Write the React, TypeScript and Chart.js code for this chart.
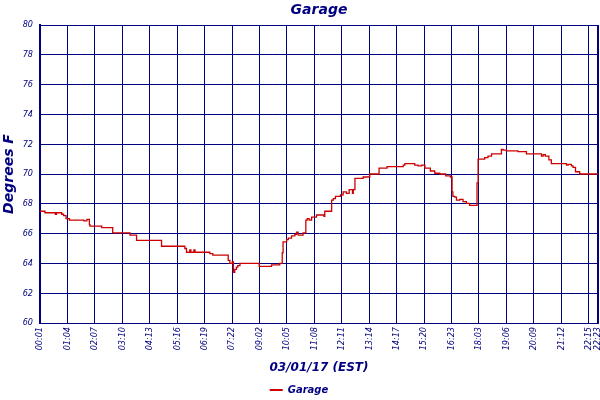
import React, { useEffect, useRef } from "react";
import { Chart, registerables } from "chart.js";

Chart.register(...registerables);

const tickLabels = [
  "00:01", "01:04", "02:07", "03:10", "04:13", "05:16", "06:19", "07:22",
  "09:02", "10:05", "11:08", "12:11", "13:14", "14:17", "15:20", "16:23",
  "18:03", "19:06", "20:09", "21:12", "22:15", "22:23",
];
const tickPositions = [
  0, 1, 2, 3, 4, 5, 6, 7, 8, 9, 10, 11, 12, 13, 14, 15, 16, 17, 18, 19, 20, 20.34,
];

// reading position (in label-interval units) where each temperature level starts
const readingPos = [
  0, 0.18, 0.56, 0.6, 0.79, 0.86, 0.95, 1.07, 1.6, 1.71, 1.8, 1.82, 2.25, 2.65,
  3.28, 3.52, 4.43, 5.28, 5.34, 5.46, 5.5, 5.61, 5.65, 6.19, 6.3, 6.86, 6.92,
  7.01, 7.05, 7.1, 7.16, 7.21, 7.29, 7.99, 8.44, 8.74, 8.83, 8.86, 8.99, 9.05,
  9.17, 9.29, 9.35, 9.41, 9.59, 9.69, 9.74, 9.81, 9.9, 10.08, 10.35, 10.38,
  10.63, 10.69, 10.77, 10.95, 11.05, 11.17, 11.27, 11.39, 11.42, 11.48, 11.78,
  12.02, 12.36, 12.65, 13.24, 13.3, 13.66, 13.78, 13.91, 14.03, 14.23, 14.39,
  14.57, 14.79, 14.96, 15.02, 15.05, 15.12, 15.18, 15.3, 15.42, 15.54, 15.66,
  15.93, 15.97, 16.21, 16.33, 16.46, 16.82, 16.88, 17.0, 17.42, 17.73, 18.28,
  18.34, 18.42, 18.55, 18.64, 19.19, 19.25, 19.37, 19.43, 19.52, 19.67, 20.34,
];
const garageTemp = [
  67.5, 67.4, 67.3, 67.4, 67.3, 67.2, 67.0, 66.9, 66.85, 66.95, 66.6, 66.5, 66.4, 66.05,
  65.9, 65.55, 65.15, 65.0, 64.75, 64.9, 64.75, 64.9, 64.75, 64.65, 64.55, 64.2, 64.0,
  64.1, 63.4, 63.6, 63.75, 63.85, 64.0, 63.8, 63.9, 64.0, 64.7, 65.45, 65.6, 65.7,
  65.85, 65.95, 66.1, 65.9, 66.05, 66.9, 67.0, 66.9, 67.1, 67.25, 67.15, 67.5,
  68.25, 68.35, 68.5, 68.6, 68.8, 68.7, 68.95, 68.7, 68.95, 69.7, 69.8,
  70.0, 70.4, 70.5, 70.6, 70.7, 70.6, 70.55, 70.6, 70.4, 70.2, 70.05,
  70.0, 69.87, 69.8, 68.8, 68.5, 68.45, 68.25, 68.3, 68.15, 68.03, 67.9,
  69.4, 71.0, 71.1, 71.2, 71.35, 71.65, 71.6, 71.55, 71.5, 71.35, 71.2,
  71.3, 71.2, 70.95, 70.7, 70.6, 70.65, 70.55, 70.45, 70.15, 70.0, 70.0,
];

const yMin = 60;
const yMax = 80;
const yStep = 2;

const NAVY = "#000080";
const RED = "#cc0000";
const FAMILY = "'DejaVu Sans', sans-serif";
const TICK_FAMILY = "'DejaVu Sans Condensed', 'DejaVu Sans', sans-serif";

export default function App() {
  const canvasRef = useRef<HTMLCanvasElement | null>(null);

  useEffect(() => {
    const canvas = canvasRef.current;
    if (!canvas) return;
    const chart = new Chart(canvas, {
      type: "line",
      data: {
        datasets: [
          {
            label: "Garage",
            data: readingPos.map((x, i) => ({ x, y: garageTemp[i] })),
            borderColor: RED,
            backgroundColor: RED,
            borderWidth: 1.3,
            pointRadius: 0,
            stepped: true,
            fill: false,
          },
        ],
      },
      options: {
        animation: false,
        responsive: false,
        devicePixelRatio: 1,
        layout: { padding: { left: 0, right: 2, top: 0, bottom: -5 } },
        plugins: {
          title: {
            display: true,
            text: "Garage",
            color: NAVY,
            fullSize: false,
            font: { family: FAMILY, size: 14, style: "italic", weight: "bold" },
            padding: { top: 2, bottom: 6.2 },
          },
          legend: {
            display: true,
            position: "bottom",
            labels: {
              color: NAVY,
              boxWidth: 13,
              boxHeight: 2,
              padding: 5,
              font: { family: FAMILY, size: 10, style: "italic", weight: "bold" },
              generateLabels: (c: any) =>
                Chart.defaults.plugins.legend.labels
                  .generateLabels(c)
                  .map((l: any) => ({ ...l, lineWidth: 0 })),
            },
          },
          tooltip: { enabled: false },
        },
        scales: {
          x: {
            type: "linear",
            min: tickPositions[0],
            max: tickPositions[tickPositions.length - 1],
            afterBuildTicks: (scale: any) => {
              scale.ticks = tickPositions.map((v) => ({ value: v }));
            },
            afterFit: (scale: any) => {
              scale.height = 57;
              scale.paddingLeft = 0;
              scale.paddingRight = 0;
            },
            ticks: {
              autoSkip: false,
              minRotation: 90,
              maxRotation: 90,
              padding: 4,
              color: NAVY,
              font: { family: TICK_FAMILY, size: 9, style: "italic" },
              callback: (_v: any, i: number) => tickLabels[i],
            },
            grid: {
              color: NAVY,
              lineWidth: (ctx: any) =>
                ctx.index === tickPositions.length - 1 || ctx.index === 0 ? 2 : 1,
              drawTicks: false,
            },
            border: { display: true, color: NAVY, width: 1 },
            title: {
              display: true,
              text: "03/01/17 (EST)",
              color: NAVY,
              font: { family: FAMILY, size: 12, style: "italic", weight: "bold" },
              padding: { top: 0, bottom: 5 },
            },
          },
          y: {
            min: yMin,
            max: yMax,
            afterFit: (scale: any) => {
              scale.width = 40;
              scale.paddingTop = 0;
              scale.paddingBottom = 0;
            },
            ticks: {
              stepSize: yStep,
              padding: 7,
              color: NAVY,
              font: { family: TICK_FAMILY, size: 9, style: "italic" },
            },
            grid: { color: NAVY, lineWidth: 1, drawTicks: false },
            border: { display: true, color: NAVY, width: 2 },
            title: {
              display: true,
              text: "Degrees F",
              color: NAVY,
              font: { family: FAMILY, size: 14, style: "italic", weight: "bold" },
              padding: { top: 1, bottom: 0 },
            },
          },
        },
      },
    } as any);
    return () => chart.destroy();
  }, []);

  return (
    <div style={{ position: "absolute", left: 0, top: 0, width: 600, height: 400, background: "#fff" }}>
      <canvas ref={canvasRef} width={600} height={400} style={{ width: 600, height: 400 }} />
    </div>
  );
}
